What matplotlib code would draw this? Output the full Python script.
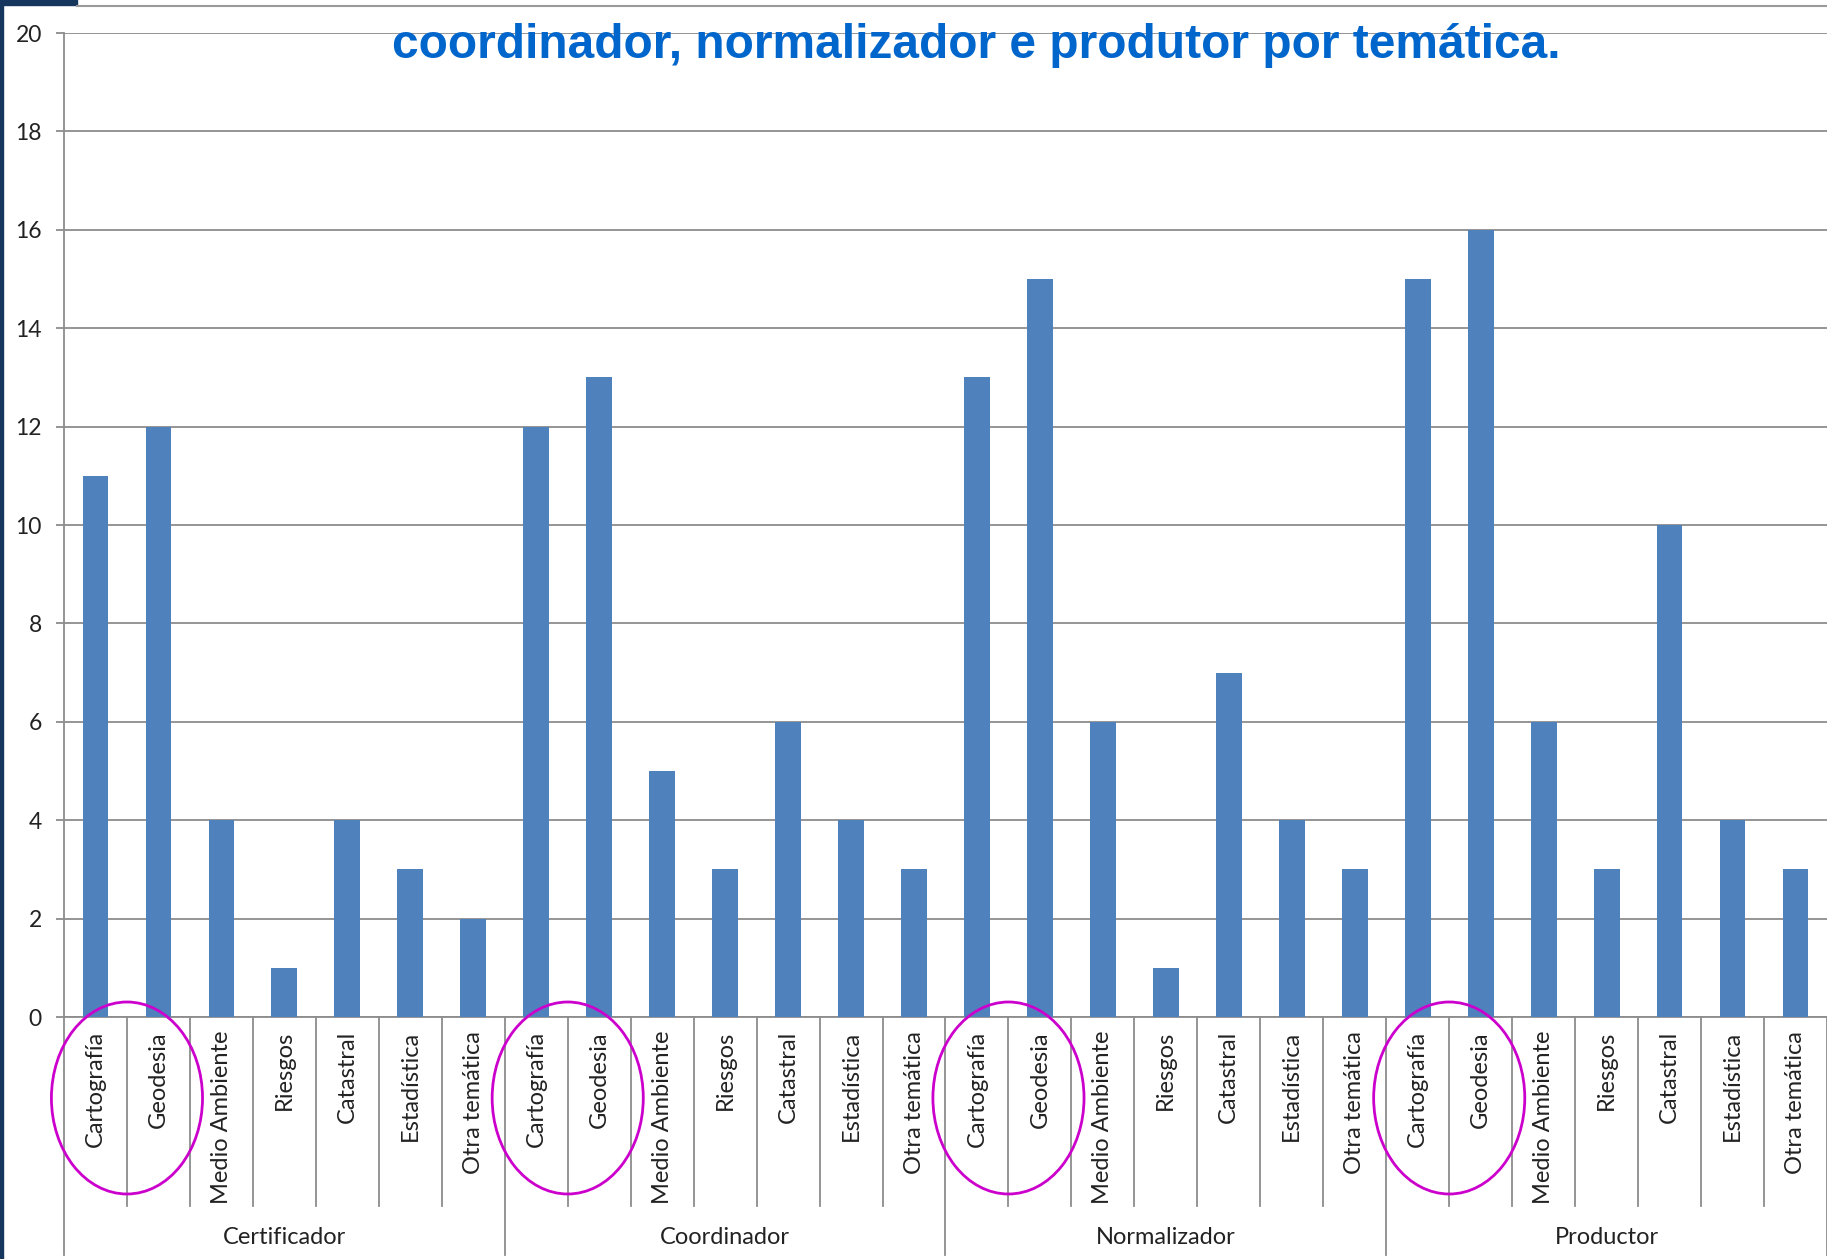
import matplotlib
matplotlib.use("Agg")
import matplotlib.pyplot as plt
import matplotlib.transforms as mtransforms
from matplotlib.patches import Ellipse, Rectangle

# Data
groups = ["Certificador", "Coordinador", "Normalizador", "Productor"]
themes = ["Cartografía", "Geodesia", "Medio Ambiente", "Riesgos",
          "Catastral", "Estadística", "Otra temática"]
certificador = [11, 12, 4, 1, 4, 3, 2]
coordinador = [12, 13, 5, 3, 6, 4, 3]
normalizador = [13, 15, 6, 1, 7, 4, 3]
productor = [15, 16, 6, 3, 10, 4, 3]
yticks = list(range(0, 21, 2))
title = "coordinador, normalizador e produtor por temática."

values = certificador + coordinador + normalizador + productor
ncat = len(values)
nthemes = len(themes)

W, H = 1827, 1259
fig = plt.figure(figsize=(W / 100, H / 100), dpi=100)
fig.patch.set_facecolor("white")

# axes: left edge x=64, y(0)=1017, y(20)=33 in pixels
ax = fig.add_axes([64 / W, 1 - 1017 / H, 1 - 64 / W, (1017 - 33) / H])
ax.set_xlim(0, ncat)
ax.set_ylim(0, 20)

grid_col = "#8c8c8c"
label_font = "Lato"

x = [i + 0.5 for i in range(ncat)]
ax.bar(x, values, width=0.41, color="#4F81BD", zorder=3)

ax.set_yticks(yticks)
ax.yaxis.grid(True, color=grid_col, lw=1.3, zorder=0)
ax.set_axisbelow(True)
ax.tick_params(axis="y", length=6, width=1.3, color=grid_col, pad=10,
               labelsize=16.5, labelcolor="#222222")
for lab in ax.get_yticklabels():
    lab.set_family(label_font)
ax.set_xticks([])
for s in ["top", "right"]:
    ax.spines[s].set_visible(False)
for s in ["left", "bottom"]:
    ax.spines[s].set_color(grid_col)
    ax.spines[s].set_linewidth(1.3)

trans = mtransforms.blended_transform_factory(ax.transData, ax.transAxes)
px = 1 / (1017 - 33)  # one pixel in axes fraction (vertical)

# category labels and separators under the axis
for i in range(ncat):
    ax.text(i + 0.5, -14 * px, themes[i % nthemes], rotation=90,
            ha="center", va="top", fontsize=17, family=label_font,
            color="#222222", transform=trans)
for b in range(ncat + 1):
    bottom = -238 * px if b % nthemes == 0 else -189 * px
    ax.plot([b, b], [0, bottom], color=grid_col, lw=1.3,
            transform=trans, clip_on=False)
for g, name in enumerate(groups):
    ax.text(g * nthemes + nthemes / 2, -220 * px, name, ha="center",
            va="center", fontsize=17, family=label_font, color="#222222",
            transform=trans)

# magenta ellipses around Cartografía / Geodesia in each group
for g in range(len(groups)):
    ax.add_patch(Ellipse((g * nthemes + 1, -81 * px), 2.4, 192 * px,
                         transform=trans, fill=False, edgecolor="#CC00CC",
                         lw=2, clip_on=False, zorder=5))

# slide decorations and cut title
fig.patches.append(Rectangle((0, 1 - 5 / H), 77 / W, 5 / H,
                             transform=fig.transFigure, color="#17365D"))
fig.patches.append(Rectangle((0, 0), 3 / W, 1,
                             transform=fig.transFigure, color="#17365D"))
fig.add_artist(plt.Line2D([77 / W, 1], [1 - 6 / H, 1 - 6 / H],
                          color="#9a9a9a", lw=1.5, transform=fig.transFigure))
fig.text(976 / W, 1 - 46 / H, title, ha="center", va="center",
         fontsize=34.5, weight="bold", color="#0066CC",
         family="Liberation Sans", zorder=10)

fig.savefig("out.png", dpi=100)
